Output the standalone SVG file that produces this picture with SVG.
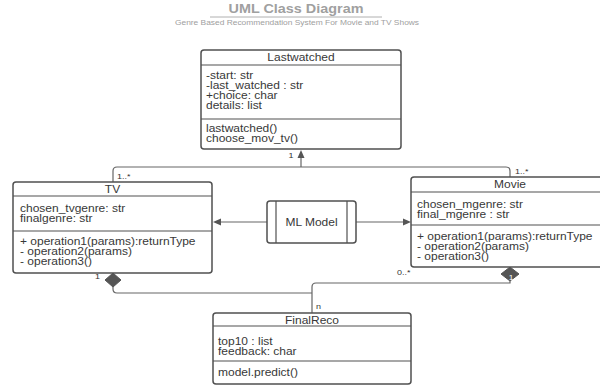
<svg xmlns="http://www.w3.org/2000/svg" width="600" height="385" viewBox="0 0 600 385">
<style>
.t{font-family:"Liberation Sans",Arial,sans-serif;font-size:10px;fill:#383838}
.c{text-anchor:middle}
.lb{font-family:"Liberation Sans",Arial,sans-serif;font-size:7.5px;fill:#333}
.box{fill:#fff;stroke:#505050;stroke-width:1.5}
.div{stroke:#505050;stroke-width:1.2}
.ln{fill:none;stroke:#666;stroke-width:1.2}
.ah{fill:#555;stroke:none}
.dm{fill:#555;stroke:#555;stroke-width:1}
</style>
<rect width="600" height="385" fill="#fff"/>
<g id="title">
<text class="c" transform="translate(296,13) scale(1.2,1)" style="font-family:'Liberation Sans',Arial,sans-serif;font-size:12px;font-weight:bold;fill:#a0a0a0">UML Class Diagram</text>
<line x1="210" y1="17" x2="382" y2="17" stroke="#b0b0b0" stroke-width="1"/>
<text class="c" transform="translate(297,24.5) scale(1.2,1)" style="font-family:'Liberation Sans',Arial,sans-serif;font-size:7px;fill:#a0a0a0">Genre Based Recommendation System For Movie and TV Shows</text>
</g>
<g id="connectors">
<path class="ln" d="M113,182 V171 Q113,167 117,167 H506 Q510,167 510,171 V177"/>
<path class="ln" d="M301,167 V157"/>
<polygon class="ah" points="301,150 297.5,158 304.5,158"/>
<path class="ln" d="M267,222 H220"/>
<polygon class="ah" points="213,222 221,218.5 221,225.5"/>
<path class="ln" d="M356,222 H404"/>
<polygon class="ah" points="411,222 403,218.5 403,225.5"/>
<polygon class="dm" points="113,273 121,280 113,287 105,280"/>
<path class="ln" d="M113,287 V289 Q113,293 117,293 H312"/>
<polygon class="dm" points="510,267 519,274 510,281 501,274"/>
<path class="ln" d="M510,281 V283 H316 Q312,283 312,287 V313"/>
<text class="lb c" transform="translate(291,158) scale(1.2,1)">1</text>
<text class="lb" transform="translate(117,179) scale(1.2,1)">1..*</text>
<text class="lb" transform="translate(515,174) scale(1.2,1)">1..*</text>
<text class="lb" transform="translate(95,279) scale(1.2,1)">1</text>
<text class="lb" transform="translate(397,275) scale(1.2,1)">0..*</text>
<text class="lb" transform="translate(316,309) scale(1.2,1)">n</text>
<text class="lb c" transform="translate(511,280) scale(1.2,1)" style="fill:#fff;font-size:7px">1</text>
</g>
<g id="lastwatched">
<rect class="box" x="201" y="50" width="200" height="99" rx="3"/>
<line class="div" x1="201" y1="65" x2="401" y2="65"/>
<line class="div" x1="201" y1="119" x2="401" y2="119"/>
<text class="t c" transform="translate(301,61) scale(1.2,1)">Lastwatched</text>
<text class="t" transform="translate(206,78.5) scale(1.2,1)">-start: str</text>
<text class="t" transform="translate(206,88.5) scale(1.2,1)">-last_watched : str</text>
<text class="t" transform="translate(206,98.5) scale(1.2,1)">+choice: char</text>
<text class="t" transform="translate(206,108.5) scale(1.2,1)">details: list</text>
<text class="t" transform="translate(206,131.5) scale(1.2,1)">lastwatched()</text>
<text class="t" transform="translate(206,141.5) scale(1.2,1)">choose_mov_tv()</text>
</g>
<g id="tv">
<rect class="box" x="13" y="182" width="199" height="91" rx="3"/>
<line class="div" x1="13" y1="196" x2="212" y2="196"/>
<line class="div" x1="13" y1="231" x2="212" y2="231"/>
<text class="t c" transform="translate(112.5,192.5) scale(1.2,1)">TV</text>
<text class="t" transform="translate(20,211.5) scale(1.2,1)">chosen_tvgenre: str</text>
<text class="t" transform="translate(20,221.5) scale(1.2,1)">finalgenre: str</text>
<text class="t" transform="translate(20,245) scale(1.2,1)">+ operation1(params):returnType</text>
<text class="t" transform="translate(20,255) scale(1.2,1)">- operation2(params)</text>
<text class="t" transform="translate(20,265) scale(1.2,1)">- operation3()</text>
</g>
<g id="movie">
<rect class="box" x="411" y="177" width="198" height="90" rx="3"/>
<line class="div" x1="411" y1="192" x2="609" y2="192"/>
<line class="div" x1="411" y1="225" x2="609" y2="225"/>
<text class="t c" transform="translate(510,188) scale(1.2,1)">Movie</text>
<text class="t" transform="translate(417,207.5) scale(1.2,1)">chosen_mgenre: str</text>
<text class="t" transform="translate(417,217.5) scale(1.2,1)">final_mgenre : str</text>
<text class="t" transform="translate(417,239.5) scale(1.2,1)">+ operation1(params):returnType</text>
<text class="t" transform="translate(417,249.5) scale(1.2,1)">- operation2(params)</text>
<text class="t" transform="translate(417,259.5) scale(1.2,1)">- operation3()</text>
</g>
<g id="mlmodel">
<rect class="box" x="267" y="201" width="89" height="42" rx="3"/>
<line class="div" x1="276" y1="201" x2="276" y2="243"/>
<line class="div" x1="347" y1="201" x2="347" y2="243"/>
<text class="t c" transform="translate(311.5,225.5) scale(1.2,1)">ML Model</text>
</g>
<g id="finalreco">
<rect class="box" x="213" y="313" width="198" height="71" rx="3"/>
<line class="div" x1="213" y1="326" x2="411" y2="326"/>
<line class="div" x1="213" y1="361" x2="411" y2="361"/>
<text class="t c" transform="translate(312,323.5) scale(1.2,1)">FinalReco</text>
<text class="t" transform="translate(218,344.5) scale(1.2,1)">top10 : list</text>
<text class="t" transform="translate(218,354.5) scale(1.2,1)">feedback: char</text>
<text class="t" transform="translate(218,376) scale(1.2,1)">model.predict()</text>
</g>
</svg>
